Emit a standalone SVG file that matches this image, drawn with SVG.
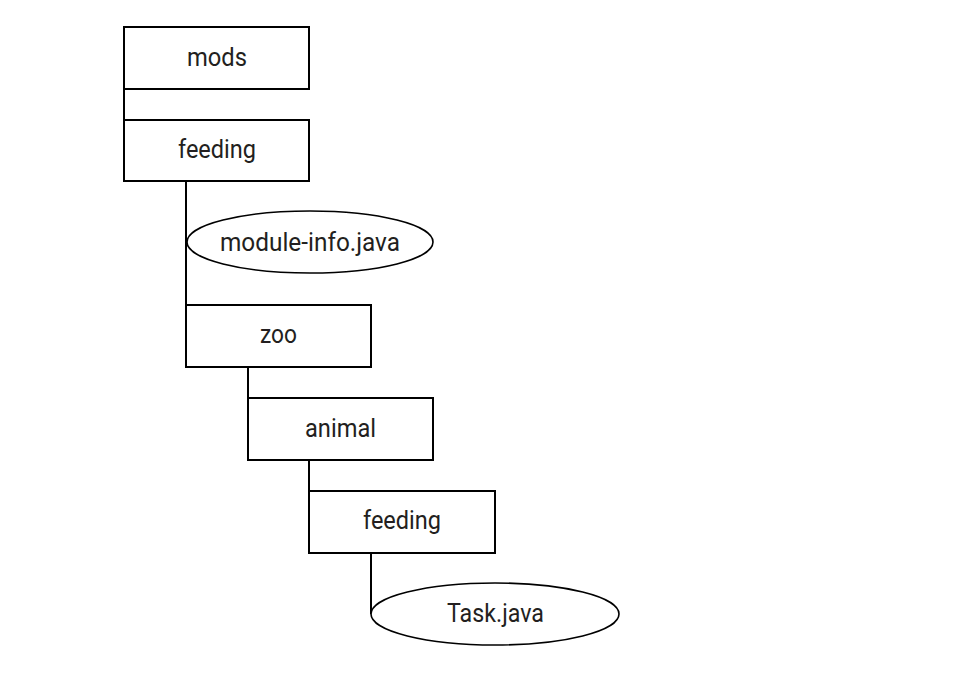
<svg xmlns="http://www.w3.org/2000/svg" width="972" height="684" viewBox="0 0 972 684">
<style>
.box{fill:#fff;stroke:#000;stroke-width:2}
.ell{fill:#fff;stroke:#000;stroke-width:1.6}
.lbl{font-family:Roboto,"Liberation Sans",sans-serif;font-size:26px;fill:#231f20;text-anchor:middle}
.conn line{stroke:#000;stroke-width:2}
</style>
<rect width="972" height="684" fill="#fff"/>
<g class="conn">
<line x1="124" y1="89" x2="124" y2="120"/>
<line x1="186" y1="181" x2="186" y2="305"/>
<line x1="248" y1="367" x2="248" y2="398"/>
<line x1="309" y1="460" x2="309" y2="491"/>
<line x1="371" y1="553" x2="371" y2="614"/>
</g>
<g id="mods"><rect class="box" x="124" y="27" width="185" height="62"/><text class="lbl" x="217" y="66" textLength="60" lengthAdjust="spacingAndGlyphs">mods</text></g>
<g id="feeding1"><rect class="box" x="124" y="120" width="185" height="61"/><text class="lbl" x="217" y="158" textLength="78" lengthAdjust="spacingAndGlyphs">feeding</text></g>
<g id="moduleinfo"><ellipse class="ell" cx="310" cy="242" rx="123" ry="31"/><text class="lbl" x="310" y="251" textLength="180" lengthAdjust="spacingAndGlyphs">module-info.java</text></g>
<g id="zoo"><rect class="box" x="186" y="305" width="185" height="62"/><text class="lbl" x="278.5" y="343" textLength="37" lengthAdjust="spacingAndGlyphs">zoo</text></g>
<g id="animal"><rect class="box" x="248" y="398" width="185" height="62"/><text class="lbl" x="340.5" y="437" textLength="71" lengthAdjust="spacingAndGlyphs">animal</text></g>
<g id="feeding2"><rect class="box" x="309" y="491" width="186" height="62"/><text class="lbl" x="402" y="529" textLength="78" lengthAdjust="spacingAndGlyphs">feeding</text></g>
<g id="task"><ellipse class="ell" cx="495" cy="614" rx="124" ry="31"/><text class="lbl" x="495.5" y="622" textLength="97" lengthAdjust="spacingAndGlyphs">Task.java</text></g>
</svg>
